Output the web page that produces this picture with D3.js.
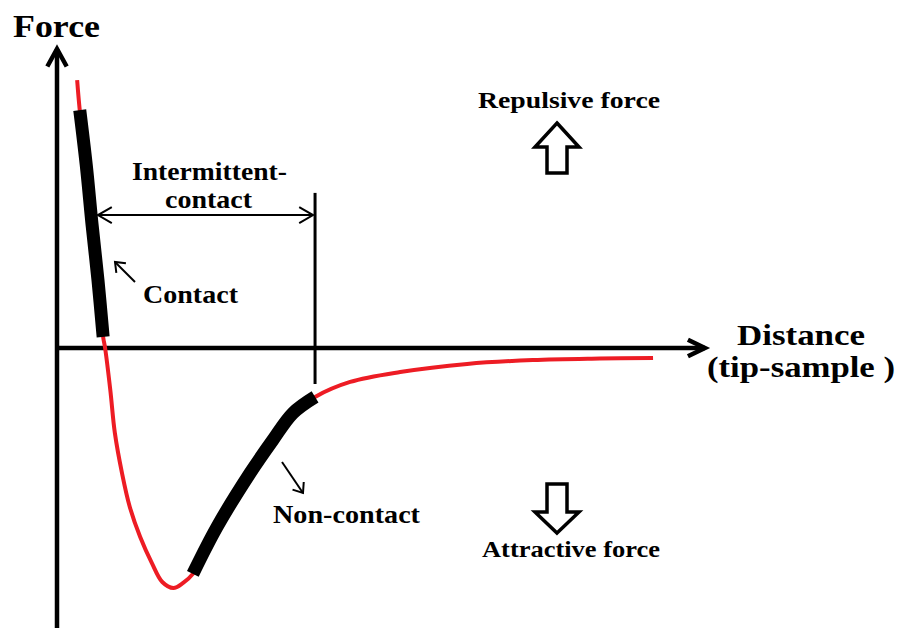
<!DOCTYPE html>
<html>
<head>
<meta charset="utf-8">
<script src="https://cdn.jsdelivr.net/npm/d3@7"></script>
<style>
  body { margin: 0; background: white; }
  text { font-family: "Liberation Serif", "Times New Roman", serif; font-weight: bold; fill: black; }
</style>
</head>
<body>
<div id="chart"></div>
<script>
// curve: distance (arbitrary units) vs force
const distance = [3.1, 3.5, 4.5, 5.4, 6.3, 7.1, 7.4, 8.2, 8.9, 10.0, 11.2, 12.8, 14.6, 16.2, 17.9, 19.4,
                  20.9, 24.6, 29.7, 33.2, 36.3, 39.7, 45.1, 52.8, 63.1, 73.2, 83.5, 91.7];
const force = [89.3, 79.3, 61, 41, 22.7, 3.7, 0, -14, -28.3, -41.7, -53, -63, -71.7, -78, -80, -78.3,
               -75.3, -59.7, -41.7, -30.7, -21.7, -16.3, -11.3, -8, -5.3, -4, -3.5, -3.3];
// regimes highlighted in black
const regimeNames = ["Contact", "Non-contact"];
const regimeFrom = [3.5, 20.9];
const regimeTo = [7.1, 39.7];
const intermittentEdge = 39.7;

const layout = {
    width: 899,
    height: 630,
    axisTop: 47,
    axisBottom: 628,
    axisRight: 707
};

let svg = d3.select("#chart").append("svg")
    .attr("width", layout.width)
    .attr("height", layout.height)
    .attr("viewBox", [0, 0, layout.width, layout.height].join(" "));

svg.append("rect").attr("width", layout.width).attr("height", layout.height).attr("fill", "white");

let xScale = d3.scaleLinear().domain([0, 100]).range([57, 707]);
let yScale = d3.scaleLinear().domain([-100, 100]).range([648, 48]);

let points = distance.map((d, i) => ({d: d, f: force[i]}));

// arrow helper: line with open chevron head at (x2,y2)
function arrowLine(g, x1, y1, x2, y2, head, angle, width, bothEnds) {
    g.append("line")
        .attr("x1", x1).attr("y1", y1).attr("x2", x2).attr("y2", y2)
        .attr("stroke", "black").attr("stroke-width", width);
    function chevron(tx, ty, fx, fy) {
        let a = Math.atan2(fy - ty, fx - tx);
        let r = angle * Math.PI / 180;
        let p1 = [tx + head * Math.cos(a + r), ty + head * Math.sin(a + r)];
        let p2 = [tx + head * Math.cos(a - r), ty + head * Math.sin(a - r)];
        g.append("path")
            .attr("d", `M${p1[0]},${p1[1]}L${tx},${ty}L${p2[0]},${p2[1]}`)
            .attr("fill", "none")
            .attr("stroke", "black")
            .attr("stroke-width", width)
            .attr("stroke-linejoin", "miter");
    }
    chevron(x2, y2, x1, y1);
    if (bothEnds) chevron(x1, y1, x2, y2);
}

// axes
let axes = svg.append("g");
arrowLine(axes, xScale(0), layout.axisBottom, xScale(0), layout.axisTop + 2, 20, 29, 4.5);
arrowLine(axes, xScale(0), yScale(0), layout.axisRight - 2, yScale(0), 19, 26, 4.5);

// red force curve
let line = d3.line()
    .x(p => xScale(p.d))
    .y(p => yScale(p.f))
    .curve(d3.curveCatmullRom.alpha(0.5));

svg.append("path")
    .datum(points)
    .attr("fill", "none")
    .attr("stroke", "#ed1c24")
    .attr("stroke-width", 4)
    .attr("d", line);

// black regime segments
regimeNames.forEach((name, i) => {
    svg.append("path")
        .datum(points.filter(p => p.d >= regimeFrom[i] - 1e-6 && p.d <= regimeTo[i] + 1e-6))
        .attr("fill", "none")
        .attr("stroke", "black")
        .attr("stroke-width", 13)
        .attr("stroke-linecap", "butt")
        .attr("d", line);
});

// intermittent-contact marker
let ann = svg.append("g");
ann.append("line")
    .attr("x1", xScale(intermittentEdge)).attr("x2", xScale(intermittentEdge))
    .attr("y1", yScale(51.7)).attr("y2", yScale(-12))
    .attr("stroke", "black").attr("stroke-width", 3);
arrowLine(ann, xScale(6.3), yScale(44.3), xScale(intermittentEdge) - 2, yScale(44.3), 16, 30, 2, true);

// small pointers
arrowLine(ann, 135, 282, 115, 262, 11, 38, 2);
arrowLine(ann, 282, 462, 303, 493, 11, 38, 2);

// hollow arrows
ann.append("path")
    .attr("d", "M557,123L579,147L567,147L567,173L547,173L547,147L535,147Z")
    .attr("fill", "white").attr("stroke", "black").attr("stroke-width", 3.5)
    .attr("stroke-linejoin", "miter");
ann.append("path")
    .attr("d", "M557,533L579,512L567,512L567,484L547,484L547,512L535,512Z")
    .attr("fill", "white").attr("stroke", "black").attr("stroke-width", 3.5)
    .attr("stroke-linejoin", "miter");

// labels: text, x, baseline, width, size
const labels = [
    ["Force", 13, 37, 87, 32],
    ["Intermittent-", 132, 180, 155, 25],
    ["contact", 165, 208, 87, 25],
    ["Contact", 143, 303, 95, 25],
    ["Non-contact", 273, 523, 147, 25],
    ["Repulsive force", 478, 108, 182, 24],
    ["Attractive force", 482, 557, 178, 24],
    ["Distance", 737, 345, 128, 30],
    ["(tip-sample )", 707, 377, 188, 30]
];
labels.forEach(l => {
    svg.append("text")
        .attr("x", l[1])
        .attr("y", l[2])
        .attr("font-size", l[4])
        .attr("textLength", l[3])
        .attr("lengthAdjust", "spacingAndGlyphs")
        .text(l[0]);
});
</script>
</body>
</html>
